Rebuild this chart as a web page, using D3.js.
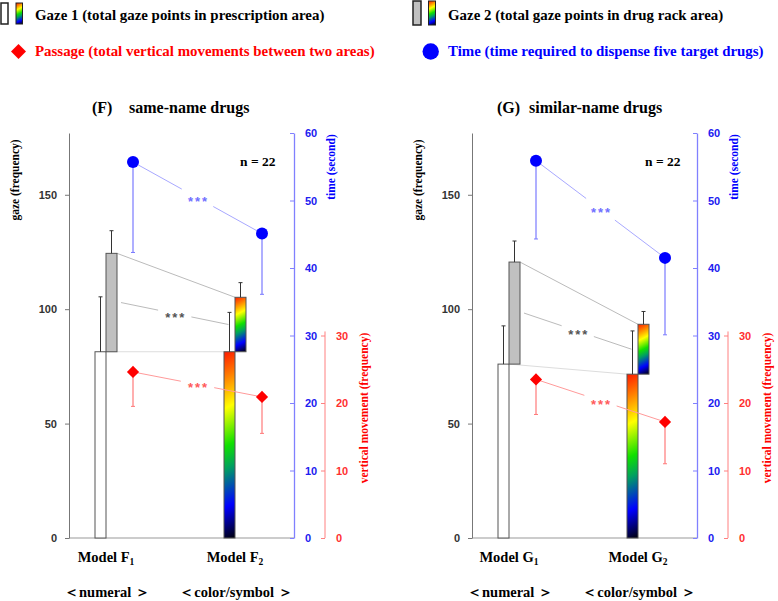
<!DOCTYPE html>
<html lang="en">
<head>
<meta charset="UTF-8">
<title>Gaze, passage and time by model</title>
<script src="https://d3js.org/d3.v7.min.js"></script>
<style>
    body { margin: 0; background: #fff; }
    text { font-family: "Liberation Serif", "Times New Roman", serif; font-weight: bold; }
    .tick text { font-family: "Liberation Sans", Arial, sans-serif; font-size: 11px; font-weight: bold; }
    .sig { font-family: "Liberation Sans", Arial, sans-serif; font-size: 13px; font-weight: bold; letter-spacing: 2px; }
</style>
</head>
<body>
<svg width="778" height="601"></svg>

<script>
    // values, [model 1, model 2] for each panel
    const panelIds    = ["F", "G"];
    const panelTitles = ["same-name drugs", "similar-name drugs"];
    const modelSubs   = ["1", "2"];
    const modelKinds  = ["＜numeral ＞", "＜color/symbol ＞"];

    const gaze1Mean = [[81.4, 81.4], [76.0, 71.6]];
    const gaze1Sd   = [[24.0, 17.2], [16.7, 18.9]];
    const gaze2Mean = [[43.0, 23.8], [44.6, 21.8]];
    const gaze2Sd   = [[9.9, 6.4], [9.2, 5.6]];
    const timeMean  = [[55.7, 45.1], [55.9, 41.5]];
    const timeSd    = [[13.4, 9.0], [11.6, 11.4]];
    const moveMean  = [[24.6, 20.9], [23.5, 17.2]];
    const moveSd    = [[5.1, 5.4], [5.2, 6.2]];

    const gazeTicks = [0, 50, 100, 150];
    const timeTicks = [0, 10, 20, 30, 40, 50, 60];
    const moveTicks = [0, 10, 20, 30];
    const sigLabel  = "***";
    const nLabel    = "n = 22";

    const legendItems = [
        {text: "Gaze 1 (total gaze points in prescription area)", color: "#000"},
        {text: "Gaze 2 (total gaze points in drug rack area)", color: "#000"},
        {text: "Passage (total vertical movements between two areas)", color: "#ff0000"},
        {text: "Time (time required to dispense five target drugs)", color: "#0000ff"}
    ];

    const svg = d3.select("svg");
    const defs = svg.append("defs");

    const rainbow = [
        [0, "#ff1a00"], [0.13, "#ff7a00"], [0.3, "#ffff00"], [0.5, "#10e000"],
        [0.62, "#00a060"], [0.82, "#0000ff"], [1, "#000010"]
    ];
    let gradId = 0;
    function rainbowFill(x, y, w, h) {
        // slightly tilted gradient, top-left red to bottom-right black
        const a = 0.45, b = 0.89, L = w * a + h * b;
        const id = "rb" + (gradId++);
        const g = defs.append("linearGradient").attr("id", id)
            .attr("gradientUnits", "userSpaceOnUse")
            .attr("x1", x).attr("y1", y)
            .attr("x2", x + L * a).attr("y2", y + L * b);
        g.selectAll("stop").data(rainbow).join("stop")
            .attr("offset", d => d[0]).attr("stop-color", d => d[1]);
        return "url(#" + id + ")";
    }

    // ---------- legend ----------
    const leg = svg.append("g");
    leg.append("rect").attr("x", 1).attr("y", 3).attr("width", 7).attr("height", 21)
        .attr("fill", "#fff").attr("stroke", "#222").attr("stroke-width", 1.5);
    leg.append("rect").attr("x", 16).attr("y", 3).attr("width", 6.5).attr("height", 21)
        .attr("fill", rainbowFill(16, 3, 6.5, 21)).attr("stroke", "#222").attr("stroke-width", 1);
    leg.append("rect").attr("x", 413).attr("y", 1).attr("width", 8).attr("height", 24)
        .attr("fill", "#c0c0c0").attr("stroke", "#222").attr("stroke-width", 1.5);
    leg.append("rect").attr("x", 428.5).attr("y", 1).attr("width", 7).attr("height", 24)
        .attr("fill", rainbowFill(428.5, 1, 7, 24)).attr("stroke", "#222").attr("stroke-width", 1);
    leg.append("path").attr("transform", "translate(18.5,51.5) rotate(45)")
        .attr("d", d3.symbol(d3.symbolSquare, 112)()).attr("fill", "#ff0000");
    leg.append("circle").attr("cx", 430.7).attr("cy", 51.5).attr("r", 8.2).attr("fill", "#0000ff");

    // row 1 = gaze 1 / gaze 2, row 2 = passage / time
    leg.selectAll("text.leg").data(legendItems).join("text").attr("class", "leg")
        .attr("x", (d, i) => (i === 0 || i === 2) ? 35 : 448)
        .attr("y", (d, i) => i < 2 ? 20 : 56)
        .attr("font-size", 14.9)
        .attr("fill", d => d.color)
        .text(d => d.text);

    // ---------- panels ----------
    const origins = [69, 472];

    panelIds.forEach((pid, p) => {
        const ox = origins[p];
        const g = svg.append("g");

        const yGaze = d3.scaleLinear().domain([0, 177]).range([538, 133]);
        const yTime = d3.scaleLinear().domain([0, 60]).range([538, 133]);
        const yMove = d3.scaleLinear().domain([0, 30]).range([538, 335.5]);
        const x = d3.scaleLinear().domain([0, 1]).range([ox + 37, ox + 166]);
        const bw = 11;
        const timeAxisX = ox + 225, moveAxisX = ox + 256;

        // baseline
        g.append("line").attr("x1", ox).attr("x2", timeAxisX)
            .attr("y1", yGaze(0)).attr("y2", yGaze(0))
            .attr("stroke", "#999").attr("stroke-width", 1);

        // gaze axis
        const ga = g.append("g").attr("transform", `translate(${ox},0)`)
            .call(d3.axisLeft(yGaze).tickValues(gazeTicks).tickSize(4).tickSizeOuter(0).tickPadding(8));
        ga.select(".domain").attr("stroke", "#777");
        ga.selectAll(".tick line").attr("stroke", "#777");
        ga.selectAll(".tick text").attr("fill", "#333");

        // time axis
        const ta = g.append("g").attr("transform", `translate(${timeAxisX},0)`)
            .call(d3.axisRight(yTime).tickValues(timeTicks).tickSize(-4).tickSizeOuter(0).tickPadding(11));
        ta.select(".domain").attr("stroke", "#8080ff").attr("stroke-width", 1.3);
        ta.selectAll(".tick line").attr("stroke", "#8080ff");
        ta.selectAll(".tick text").attr("fill", "#2020f0");

        // vertical movement axis
        const ma = g.append("g").attr("transform", `translate(${moveAxisX},0)`)
            .call(d3.axisRight(yMove).tickValues(moveTicks).tickSize(-4).tickSizeOuter(0).tickPadding(11));
        ma.select(".domain").attr("stroke", "#ff8080").attr("d", `M0,${yMove(0)}V${yMove(30.6)}`);
        ma.selectAll(".tick line").attr("stroke", "#ff8080");
        ma.selectAll(".tick text").attr("fill", "#ff3030");

        // axis titles
        g.append("text").attr("transform", `translate(${ox - 50},180) rotate(-90)`)
            .attr("text-anchor", "middle").attr("font-size", 11.5).attr("fill", "#000")
            .text("gaze (frequency)");
        g.append("text").attr("transform", `translate(${timeAxisX + 41},167) rotate(-90)`)
            .attr("text-anchor", "middle").attr("font-size", 11.5).attr("fill", "#0000ff")
            .text("time (second)");
        g.append("text").attr("transform", `translate(${moveAxisX + 43},408) rotate(-90)`)
            .attr("text-anchor", "middle").attr("font-size", 11.5).attr("fill", "#ff0000")
            .text("vertical movement (frequency)");

        // connecting lines between gaze bars
        const g1 = gaze1Mean[p], g2 = gaze2Mean[p];
        const tot = [0, 1].map(i => g1[i] + g2[i]);
        g.append("line")
            .attr("x1", x(0)).attr("y1", yGaze(g1[0]))
            .attr("x2", x(1) - bw).attr("y2", yGaze(g1[1]))
            .attr("stroke", "#ddd").attr("stroke-width", 1);
        g.append("line")
            .attr("x1", x(0) + bw).attr("y1", yGaze(tot[0]))
            .attr("x2", x(1)).attr("y2", yGaze(tot[1]))
            .attr("stroke", "#bbb").attr("stroke-width", 1);

        function sigLine(x1, y1, x2, y2, stroke, color, gap) {
            const mx = (x1 + x2) / 2, my = (y1 + y2) / 2;
            const len = Math.hypot(x2 - x1, y2 - y1), ux = (x2 - x1) / len, uy = (y2 - y1) / len;
            g.append("line").attr("x1", x1).attr("y1", y1)
                .attr("x2", mx - ux * gap).attr("y2", my - uy * gap)
                .attr("stroke", stroke).attr("stroke-width", 1);
            g.append("line").attr("x1", mx + ux * gap).attr("y1", my + uy * gap)
                .attr("x2", x2).attr("y2", y2)
                .attr("stroke", stroke).attr("stroke-width", 1);
            g.append("text").attr("class", "sig").attr("x", mx + 1).attr("y", my + 8)
                .attr("text-anchor", "middle").attr("fill", color).text(sigLabel);
        }

        // gaze 2 significance line (between bar mid-heights)
        sigLine(x(0) + 15, yGaze(g1[0] + g2[0] / 2), x(1) - 6.5, yGaze(g1[1] + g2[1] / 2), "#bbb", "#555", 17);

        // bars: model 1 white + gray, model 2 rainbow + rainbow
        [0, 1].forEach(i => {
            const x0 = x(i);
            const f1 = i === 0 ? "#fff" : rainbowFill(x0 - bw, yGaze(g1[i]), bw, yGaze(0) - yGaze(g1[i]));
            const f2 = i === 0 ? "#c0c0c0" : rainbowFill(x0, yGaze(tot[i]), bw, yGaze(g1[i]) - yGaze(tot[i]));
            g.append("rect").attr("x", x0 - bw).attr("y", yGaze(g1[i]))
                .attr("width", bw).attr("height", yGaze(0) - yGaze(g1[i]))
                .attr("fill", f1).attr("stroke", "#555").attr("stroke-width", 1);
            g.append("rect").attr("x", x0).attr("y", yGaze(tot[i]))
                .attr("width", bw).attr("height", yGaze(g1[i]) - yGaze(tot[i]))
                .attr("fill", f2).attr("stroke", "#555").attr("stroke-width", 1);

            // gaze error bars (upward)
            [[x0 - bw / 2, g1[i], g1[i] + gaze1Sd[p][i]], [x0 + bw / 2, tot[i], tot[i] + gaze2Sd[p][i]]]
                .forEach(([ex, v0, v1]) => {
                    g.append("line").attr("x1", ex).attr("x2", ex)
                        .attr("y1", yGaze(v0)).attr("y2", yGaze(v1))
                        .attr("stroke", "#333").attr("stroke-width", 1);
                    g.append("line").attr("x1", ex - 2).attr("x2", ex + 2)
                        .attr("y1", yGaze(v1)).attr("y2", yGaze(v1))
                        .attr("stroke", "#333").attr("stroke-width", 1);
                });
        });

        const mx = i => x(i) + 27;

        // time and passage lines
        sigLine(mx(0), yTime(timeMean[p][0]), mx(1), yTime(timeMean[p][1]), "#a8a8ff", "#7070ff", 18);
        sigLine(mx(0), yMove(moveMean[p][0]), mx(1), yMove(moveMean[p][1]), "#ff9a9a", "#ff5a5a", 17);

        [0, 1].forEach(i => {
            // time error (downward) + circle
            const tv = timeMean[p][i], ts = timeSd[p][i];
            g.append("line").attr("x1", mx(i)).attr("x2", mx(i))
                .attr("y1", yTime(tv)).attr("y2", yTime(tv - ts))
                .attr("stroke", "#7a7aff").attr("stroke-width", 1.2);
            g.append("line").attr("x1", mx(i) - 2).attr("x2", mx(i) + 2)
                .attr("y1", yTime(tv - ts)).attr("y2", yTime(tv - ts))
                .attr("stroke", "#7a7aff").attr("stroke-width", 1);
            g.append("circle").attr("cx", mx(i)).attr("cy", yTime(tv)).attr("r", 6)
                .attr("fill", "#0000ff");

            // passage error (downward) + diamond
            const mv = moveMean[p][i], ms = moveSd[p][i];
            g.append("line").attr("x1", mx(i)).attr("x2", mx(i))
                .attr("y1", yMove(mv)).attr("y2", yMove(mv - ms))
                .attr("stroke", "#ff7a7a").attr("stroke-width", 1.2);
            g.append("line").attr("x1", mx(i) - 2).attr("x2", mx(i) + 2)
                .attr("y1", yMove(mv - ms)).attr("y2", yMove(mv - ms))
                .attr("stroke", "#ff7a7a").attr("stroke-width", 1);
            g.append("path").attr("transform", `translate(${mx(i)},${yMove(mv)}) rotate(45)`)
                .attr("d", d3.symbol(d3.symbolSquare, 74)()).attr("fill", "#ff0000");

            // model labels
            const ml = g.append("text").attr("x", x(i)).attr("y", 562)
                .attr("text-anchor", "middle").attr("font-size", 14.5).attr("fill", "#000");
            ml.append("tspan").text("Model " + pid);
            ml.append("tspan").attr("font-size", 9.5).attr("dy", 3).text(modelSubs[i]);
            g.append("text").attr("x", x(i) + 1).attr("y", 597)
                .attr("text-anchor", "middle").attr("font-size", 14.5).attr("fill", "#000")
                .text(modelKinds[i]);
        });

        // title and n
        g.append("text").attr("x", ox + 23 + p * 2).attr("y", 113).attr("font-size", 16)
            .text("(" + pid + ")");
        g.append("text").attr("x", ox + 60 - p * 3).attr("y", 113).attr("font-size", 16)
            .text(panelTitles[p]);
        g.append("text").attr("x", ox + 171 + p * 2).attr("y", 166).attr("font-size", 13.5)
            .text(nLabel);
    });
</script>
</body>
</html>
